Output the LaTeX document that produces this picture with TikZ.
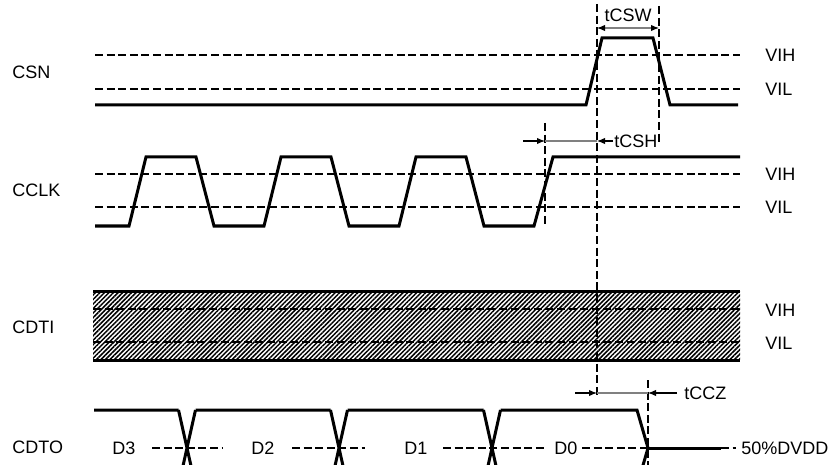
\documentclass[tikz,border=0pt]{standalone}
\usepackage{fontspec}
\setmainfont{Liberation Sans}
\usetikzlibrary{arrows.meta,patterns.meta}

\begin{document}
\begin{tikzpicture}[x=0.5pt,y=-0.5pt,
  >={Latex[black,length=4pt,width=3.2pt]},
  sig/.style={line width=1.5pt,line join=miter},
  lvl/.style={line width=0.55pt,dash pattern=on 4pt off 1.8pt},
  txt/.style={font=\fontsize{9}{10}\selectfont,inner sep=0pt},
  dim/.style={line width=0.55pt}]
\useasboundingbox (0,0) rectangle (836,465);
\clip (0,0) rectangle (836,465);
% names of the signals
\node[txt,anchor=west] (csn) at (12,72) {CSN};
\node[txt,anchor=west] (cclk) at (12,190) {CCLK};
\node[txt,anchor=west] (cdti) at (12,327) {CDTI};
\node[txt,anchor=west] (cdto) at (12,447) {CDTO};
% CSN
\draw[lvl] (95,55) -- (740,55);
\draw[lvl] (95,89) -- (740,89);
\node[txt,anchor=west] (csnH) at (765,55) {VIH};
\node[txt,anchor=west] (csnL) at (765,89) {VIL};
\draw[sig] (95,105) -- (586,105) -- (602,38) -- (653,38) -- (670,105) -- (738,105);
% CCLK
\draw[lvl] (95,174) -- (740,174);
\draw[lvl] (95,207) -- (740,207);
\node[txt,anchor=west] (clkH) at (765,174) {VIH};
\node[txt,anchor=west] (clkL) at (765,207) {VIL};
\draw[sig] (95,226) foreach \t in {129,264,399} {
    -- (\t,226) -- (\t+17,157) -- (\t+67,157) -- (\t+85,226)}
  -- (534,226) -- (553,157) -- (740,157);
% CDTI
\fill[pattern={Lines[angle=45,distance=1.6pt,line width=0.75pt]}] (93,291) rectangle (740,360);
\draw[lvl] (93,309) -- (740,309);
\draw[lvl] (93,342) -- (740,342);
\draw[sig] (93,291) -- (740,291) (93,360) -- (740,360);
\node[txt,anchor=west] (dtiH) at (765,310) {VIH};
\node[txt,anchor=west] (dtiL) at (765,343) {VIL};
% CDTO
\draw[lvl] (152,448) -- (223,448) (292,448) -- (365,448) (443,448) -- (545,448) (582,448) -- (648,448) (721,448) -- (736,448);
\draw[sig] (94,410) -- (178.5,410) (195.5,410) -- (330.5,410) (347.5,410) -- (483.5,410) (500.5,410) -- (637,410) -- (648,448) -- (637,486);
\foreach \c in {187,339,492}
  \draw[sig] (\c-8.5,410) -- (\c+8.5,486) (\c+8.5,410) -- (\c-8.5,486);
\draw[sig] (648,448) -- (721,448);
\node[txt] (d3) at (124,448) {D3};
\node[txt] (d2) at (263,448) {D2};
\node[txt] (d1) at (416,448) {D1};
\node[txt] (d0) at (566,448) {D0};
\node[txt,anchor=west] (half) at (741,448) {50\%DVDD};
% timing marks
\coordinate (cs1) at (597,4);
\coordinate (cs2) at (597,398);
\coordinate (sw1) at (659,6);
\coordinate (sw2) at (659,143);
\coordinate (ck1) at (545,123);
\coordinate (ck2) at (545,224);
\coordinate (cz1) at (648,380);
\coordinate (cz2) at (648,470);
\draw[lvl] (cs1) -- (cs2) (sw1) -- (sw2) (ck1) -- (ck2) (cz1) -- (cz2);
% tCSW
\coordinate (w1) at (597,28);
\coordinate (w2) at (659,28);
\draw[dim,gray,<->] (w1) -- (w2);
\node[txt] (tcsw) at (628,15) {tCSW};
% tCSH
\coordinate (h0) at (523,141);
\coordinate (h1) at (545,141);
\coordinate (h2) at (597,141);
\coordinate (h3) at (613,141);
\draw[dim,->] (h0) -- (h1);
\draw[dim,gray] (h1) -- (h2);
\draw[dim,->] (h3) -- (h2);
\node[txt,anchor=west] (tcsh) at (614,141) {tCSH};
% tCCZ
\coordinate (z0) at (575,393);
\coordinate (z1) at (597,393);
\coordinate (z2) at (648,393);
\coordinate (z3) at (677,393);
\draw[dim,->] (z0) -- (z1);
\draw[dim,gray] (z1) -- (z2);
\draw[dim,->] (z3) -- (z2);
\node[txt,anchor=west] (tccz) at (684,393) {tCCZ};
\end{tikzpicture}
\end{document}
